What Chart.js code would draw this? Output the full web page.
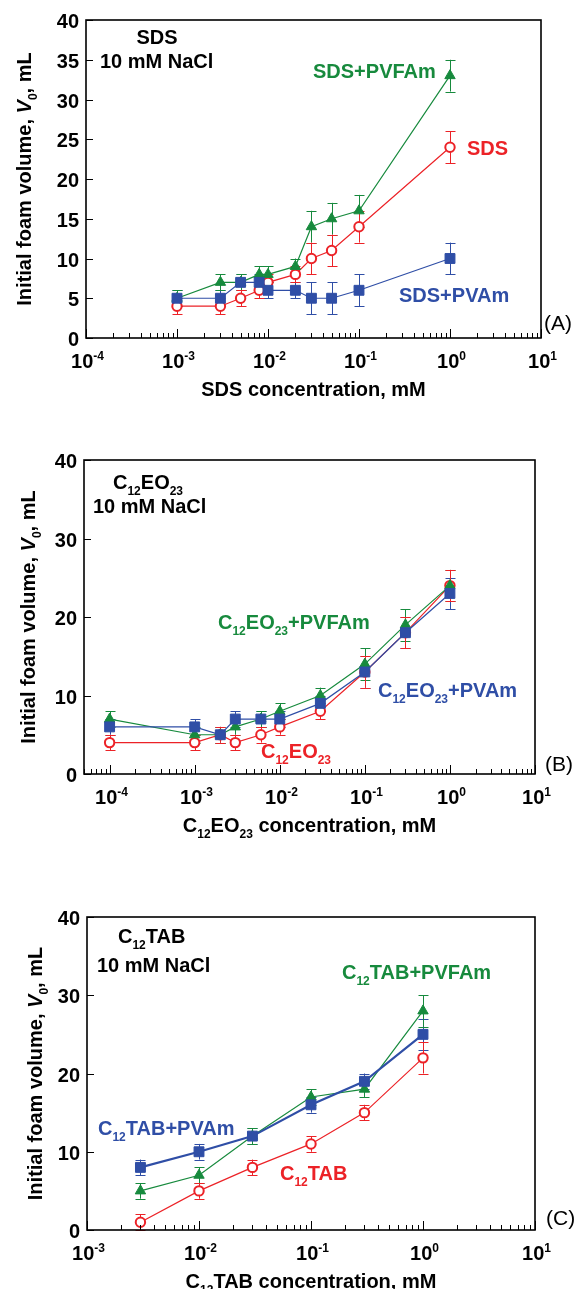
<!DOCTYPE html>
<html>
<head>
<meta charset="utf-8">
<script src="https://cdn.jsdelivr.net/npm/chart.js@4.4.1/dist/chart.umd.min.js"></script>
<style>
  html, body { margin: 0; padding: 0; background: #fff; }
  body { width: 574px; height: 1289px; position: relative; overflow: hidden; }
  canvas { position: absolute; left: 0; }
</style>
</head>
<body>
<canvas id="chartA" width="574" height="420" style="top:0px"></canvas>
<canvas id="chartB" width="574" height="440" style="top:420px"></canvas>
<canvas id="chartC" width="574" height="429" style="top:860px"></canvas>
<script>
// ---- Panel A: SDS ----
const concA = [0.001, 0.003, 0.005, 0.008, 0.01, 0.02, 0.03, 0.05, 0.1, 1];
const sdsA = [4, 4, 5, 6, 7, 8, 10, 11, 14, 24];
const sdsErrA = [1, 1, 1, 1, 1, 1, 2, 2, 2, 2];
const pvfamA = [5, 7, 7, 8, 8, 9, 14, 15, 16, 33];
const pvfamErrA = [1, 1, 1, 1, 1, 1, 2, 2, 2, 2];
const pvamA = [5, 5, 7, 7, 6, 6, 5, 5, 6, 10];
const pvamErrA = [1, 1, 1, 1, 1, 1, 2, 2, 2, 2];

// ---- Panel B: C12EO23 ----
const concB = [0.0001, 0.001, 0.002, 0.003, 0.006, 0.01, 0.03, 0.1, 0.3, 1];
const eoB = [4, 4, 5, 4, 5, 6, 8, 13, 18, 24];
const eoErrB = [1, 1, 1, 1, 1, 1, 1, 2, 2, 2];
const pvfamB = [7, 5, 5, 6, 7, 8, 10, 14, 19, 24];
const pvfamErrB = [1, 1, 1, 1, 1, 1, 1, 2, 2, 2];
const pvamB = [6, 6, 5, 7, 7, 7, 9, 13, 18, 23];
const pvamErrB = [1, 1, 1, 1, 1, 1, 1, 2, 2, 2];

// ---- Panel C: C12TAB ----
const concC = [0.003, 0.01, 0.03, 0.1, 0.3, 1];
const tabC = [1, 5, 8, 11, 15, 22];
const tabErrC = [1, 1, 1, 1, 1, 2];
const pvfamC = [5, 7, 12, 17, 18, 28];
const pvfamErrC = [1, 1, 1, 1, 1, 2];
const pvamC = [8, 10, 12, 16, 19, 25];
const pvamErrC = [1, 1, 1, 1, 1, 2];

const yTicksA = [0, 5, 10, 15, 20, 25, 30, 35, 40];
const yTicksBC = [0, 10, 20, 30, 40];

const RED = '#ec2227';
const GREEN = '#178a3d';
const BLUE = '#2f4ea6';
const FONT = '"Liberation Sans", Arial, Helvetica, sans-serif';

function partFont(p, size, weight) {
    const small = p[1] === 'sub' || p[1] === 'sup';
    const it = p[1] === 'it' ? 'italic ' : '';
    return `${it}${weight} ${small ? Math.round(size * 0.62) : size}px ${FONT}`;
}

// draw text made of pieces (normal / sub / sup / italic), cy = middle of capitals
function drawRich(ctx, parts, x, cy, size, color, align, weight = 'bold') {
    const base = cy + size * 0.36;
    let w = 0;
    parts.forEach(p => { ctx.font = partFont(p, size, weight); w += ctx.measureText(p[0]).width; });
    let cx = align === 'center' ? x - w / 2 : (align === 'right' ? x - w : x);
    ctx.fillStyle = color;
    ctx.textAlign = 'left';
    ctx.textBaseline = 'alphabetic';
    parts.forEach(p => {
        ctx.font = partFont(p, size, weight);
        let dy = 0;
        if (p[1] === 'sub') dy = size * 0.28;
        if (p[1] === 'sup') dy = -size * 0.42;
        ctx.fillText(p[0], cx, base + dy);
        cx += ctx.measureText(p[0]).width;
    });
}

const yTitle = [['Initial foam volume, ', ''], ['V', 'it'], ['0', 'sub'], [', mL', '']];

const decor = {
    id: 'decor',
    beforeDatasetsDraw(chart, args, opts) {
        const ctx = chart.ctx;
        const xs = chart.scales.x, ys = chart.scales.y;
        ctx.save();
        chart.data.datasets.forEach(ds => {
            ctx.strokeStyle = ds.borderColor;
            ctx.lineWidth = 1;
            ds.data.forEach((pt, i) => {
                const e = ds.errors[i];
                const px = Math.round(xs.getPixelForValue(pt.x)) + 0.5;
                const y1 = ys.getPixelForValue(pt.y + e);
                const y2 = ys.getPixelForValue(pt.y - e);
                ctx.beginPath();
                ctx.moveTo(px, y1); ctx.lineTo(px, y2);
                ctx.moveTo(px - 5, Math.round(y1) + 0.5); ctx.lineTo(px + 5, Math.round(y1) + 0.5);
                ctx.moveTo(px - 5, Math.round(y2) + 0.5); ctx.lineTo(px + 5, Math.round(y2) + 0.5);
                ctx.stroke();
            });
        });
        ctx.restore();
    },
    afterDraw(chart, args, opts) {
        const ctx = chart.ctx;
        const a = chart.chartArea;
        const xs = chart.scales.x, ys = chart.scales.y;
        ctx.save();
        ctx.strokeStyle = '#000';
        ctx.lineWidth = 1.6;
        ctx.strokeRect(a.left, a.top, a.right - a.left, a.bottom - a.top);

        // x ticks (inward), log decades with minor ticks
        ctx.lineWidth = 1;
        const lo = Math.floor(Math.log10(xs.min)), hi = Math.ceil(Math.log10(xs.max));
        for (let d = lo; d <= hi; d++) {
            for (let m = 1; m <= 9; m++) {
                const v = m * Math.pow(10, d);
                if (v < xs.min * 0.999 || v > xs.max * 1.001) continue;
                const px = Math.round(xs.getPixelForValue(v)) + 0.5;
                ctx.beginPath();
                ctx.moveTo(px, a.bottom);
                ctx.lineTo(px, a.bottom - (m === 1 ? 9 : 5));
                ctx.stroke();
                if (m === 1) {
                    drawRich(ctx, [['10', ''], [String(d), 'sup']], px + 1, a.bottom + 23, 20, '#000', 'center');
                }
            }
        }
        // y ticks (inward) and labels
        opts.yTicks.forEach(v => {
            const py = Math.round(ys.getPixelForValue(v)) + 0.5;
            ctx.beginPath();
            ctx.moveTo(a.left, py); ctx.lineTo(a.left + 7, py);
            ctx.stroke();
            drawRich(ctx, [[String(v), '']], a.left - 7, py, 20, '#000', 'right');
        });
        // axis titles
        drawRich(ctx, opts.xTitle, (a.left + a.right) / 2, a.bottom + 51, 20, '#000', 'center');
        ctx.save();
        ctx.translate(opts.yTitleX, (a.top + a.bottom) / 2);
        ctx.rotate(-Math.PI / 2);
        drawRich(ctx, yTitle, 0, 0, 20, '#000', 'center');
        ctx.restore();
        // annotations
        opts.notes.forEach(n => drawRich(ctx, n.parts, n.x, n.y, n.size || 20, n.color, n.align || 'left', n.weight || 'bold'));
        ctx.restore();
    }
};

function series(label, xs, ys, errs, color, style, extra) {
    return Object.assign({
        label: label,
        data: xs.map((x, i) => ({ x: x, y: ys[i] })),
        errors: errs,
        borderColor: color,
        borderWidth: 1.2,
        pointStyle: style,
        pointBorderColor: color,
        pointBackgroundColor: style === 'circle' ? '#fff' : color,
        pointBorderWidth: style === 'circle' ? 2 : 1,
        pointRadius: style === 'circle' ? 4.7 : (style === 'rect' ? 7 : 6),
        tension: 0
    }, extra || {});
}

function makeChart(id, datasets, xMin, xMax, padding, decorOpts) {
    return new Chart(document.getElementById(id), {
        type: 'line',
        data: { datasets: datasets },
        options: {
            responsive: false,
            animation: false,
            events: [],
            layout: { padding: padding },
            plugins: { legend: { display: false }, tooltip: { enabled: false }, decor: decorOpts },
            scales: {
                x: { type: 'logarithmic', min: xMin, max: xMax, display: false },
                y: { type: 'linear', min: 0, max: 40, display: false }
            }
        },
        plugins: [decor]
    });
}

makeChart('chartA', [
    series('SDS+PVAm', concA, pvamA, pvamErrA, BLUE, 'rect'),
    series('SDS+PVFAm', concA, pvfamA, pvfamErrA, GREEN, 'triangle'),
    series('SDS', concA, sdsA, sdsErrA, RED, 'circle')
], 1e-4, 10, { left: 86, right: 33, top: 20, bottom: 82 }, {
    yTicks: yTicksA,
    yTitleX: 24,
    xTitle: [['SDS concentration, mM', '']],
    notes: [
        { parts: [['SDS', '']], x: 157, y: 37, color: '#000', align: 'center' },
        { parts: [['10 mM NaCl', '']], x: 100, y: 61, color: '#000' },
        { parts: [['SDS+PVFAm', '']], x: 313, y: 71, color: GREEN },
        { parts: [['SDS', '']], x: 467, y: 148, color: RED },
        { parts: [['SDS+PVAm', '']], x: 399, y: 295, color: BLUE },
        { parts: [['(A)', '']], x: 544, y: 322, color: '#000', size: 21, weight: 'normal' }
    ]
});

makeChart('chartB', [
    series('C12EO23+PVAm', concB, pvamB, pvamErrB, BLUE, 'rect'),
    series('C12EO23+PVFAm', concB, pvfamB, pvfamErrB, GREEN, 'triangle'),
    series('C12EO23', concB, eoB, eoErrB, RED, 'circle')
], 5e-5, 10, { left: 84, right: 39, top: 40, bottom: 86 }, {
    yTicks: yTicksBC,
    yTitleX: 28,
    xTitle: [['C', ''], ['12', 'sub'], ['EO', ''], ['23', 'sub'], [' concentration, mM', '']],
    notes: [
        { parts: [['C', ''], ['12', 'sub'], ['EO', ''], ['23', 'sub']], x: 113, y: 62, color: '#000' },
        { parts: [['10 mM NaCl', '']], x: 93, y: 86, color: '#000' },
        { parts: [['C', ''], ['12', 'sub'], ['EO', ''], ['23', 'sub'], ['+PVFAm', '']], x: 218, y: 202, color: GREEN },
        { parts: [['C', ''], ['12', 'sub'], ['EO', ''], ['23', 'sub'], ['+PVAm', '']], x: 378, y: 270, color: BLUE },
        { parts: [['C', ''], ['12', 'sub'], ['EO', ''], ['23', 'sub']], x: 261, y: 331, color: RED },
        { parts: [['(B)', '']], x: 545, y: 343, color: '#000', size: 21, weight: 'normal' }
    ]
});

makeChart('chartC', [
    series('C12TAB+PVAm', concC, pvamC, pvamErrC, BLUE, 'rect', { borderWidth: 2.2 }),
    series('C12TAB+PVFAm', concC, pvfamC, pvfamErrC, GREEN, 'triangle'),
    series('C12TAB', concC, tabC, tabErrC, RED, 'circle')
], 1e-3, 10, { left: 87, right: 39, top: 57, bottom: 59 }, {
    yTicks: yTicksBC,
    yTitleX: 35,
    xTitle: [['C', ''], ['12', 'sub'], ['TAB concentration, mM', '']],
    notes: [
        { parts: [['C', ''], ['12', 'sub'], ['TAB', '']], x: 118, y: 76, color: '#000' },
        { parts: [['10 mM NaCl', '']], x: 97, y: 105, color: '#000' },
        { parts: [['C', ''], ['12', 'sub'], ['TAB+PVFAm', '']], x: 342, y: 112, color: GREEN },
        { parts: [['C', ''], ['12', 'sub'], ['TAB+PVAm', '']], x: 98, y: 268, color: BLUE },
        { parts: [['C', ''], ['12', 'sub'], ['TAB', '']], x: 280, y: 313, color: RED },
        { parts: [['(C)', '']], x: 546, y: 357, color: '#000', size: 21, weight: 'normal' }
    ]
});
</script>
</body>
</html>
